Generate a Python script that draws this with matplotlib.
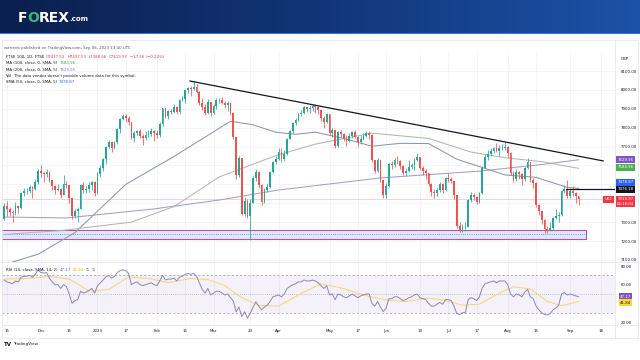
import numpy as np
import matplotlib
matplotlib.use('Agg')
import matplotlib.pyplot as plt
from matplotlib.patches import Rectangle
from matplotlib.colors import LinearSegmentedColormap

# FTSE 100 daily bars, 14 Nov 2022 .. 6 Sep 2023 (x = trading-day index)
first_open = 7318
closes = [7385, 7369, 7351, 7346, 7385, 7376, 7452, 7465, 7466, 7486, 7474, 7512, 7573,
          7558, 7556, 7567, 7521, 7489, 7472, 7476, 7446, 7503, 7495, 7426, 7332, 7361, 7370, 7497, 7469, 7473, 7497, 7512, 7452,
          7554, 7585, 7633, 7699, 7725, 7694, 7725, 7794, 7844, 7860, 7851, 7830, 7747, 7770, 7784, 7757, 7745, 7761, 7765, 7784, 7772,
          7761, 7820, 7902, 7864, 7886, 7885, 7911, 7882, 7947, 7954, 7998, 8012, 8004, 8014, 7991, 7930, 7907, 7878, 7935, 7876,
          7914, 7944, 7947, 7930, 7919, 7929, 7879, 7748, 7548, 7637, 7344, 7410, 7335, 7403, 7536, 7566, 7499, 7405, 7471, 7484, 7564, 7620, 7632,
          7673, 7634, 7662, 7742, 7785, 7824, 7843, 7871, 7879, 7909, 7898, 7902, 7914, 7912, 7891, 7852, 7831, 7870,
          7773, 7788, 7703, 7778, 7764, 7741, 7730, 7754, 7777, 7751, 7722, 7742, 7756, 7770, 7762, 7627, 7571, 7627, 7522, 7446,
          7490, 7607, 7600, 7628, 7624, 7599, 7562, 7570, 7594, 7602, 7628, 7643, 7588, 7569, 7559, 7502, 7461, 7453, 7471, 7500, 7471, 7531,
          7527, 7519, 7442, 7280, 7257, 7273, 7275, 7416, 7441, 7434, 7406, 7453, 7588, 7646, 7663, 7679, 7691, 7676, 7693, 7694, 7699,
          7667, 7561, 7529, 7564, 7554, 7527, 7587, 7618, 7525, 7507, 7389, 7357, 7310, 7262, 7257, 7271, 7320, 7333, 7338, 7465, 7473, 7439,
          7464, 7452, 7437.53, 7419.97]
highs = [7402, 7410, 7380, 7365, 7405, 7392, 7460, 7478, 7480, 7495, 7493, 7530, 7580,
         7600, 7565, 7580, 7570, 7525, 7495, 7500, 7480, 7550, 7520, 7495, 7430, 7372, 7380, 7500, 7510, 7490, 7510, 7518, 7520,
         7565, 7600, 7640, 7705, 7735, 7727, 7730, 7800, 7850, 7875, 7870, 7860, 7832, 7780, 7790, 7795, 7765, 7780, 7790, 7800, 7790,
         7790, 7830, 7905, 7903, 7893, 7900, 7925, 7915, 7950, 7970, 8005, 8015, 8020, 8047, 8030, 7995, 7955, 7925, 7950, 7936,
         7925, 7955, 7955, 7960, 7940, 7940, 7935, 7880, 7750, 7650, 7640, 7435, 7420, 7420, 7545, 7580, 7570, 7500, 7480, 7505, 7570, 7625, 7650,
         7690, 7690, 7680, 7745, 7790, 7830, 7850, 7880, 7895, 7915, 7912, 7915, 7925, 7925, 7915, 7895, 7860, 7880,
         7872, 7800, 7790, 7785, 7790, 7770, 7760, 7770, 7785, 7790, 7755, 7760, 7770, 7780, 7782, 7765, 7630, 7640, 7630, 7525,
         7505, 7615, 7625, 7640, 7650, 7630, 7605, 7585, 7630, 7615, 7640, 7665, 7645, 7595, 7580, 7560, 7505, 7475, 7480, 7515, 7505, 7540,
         7560, 7540, 7520, 7443, 7300, 7290, 7300, 7420, 7460, 7455, 7440, 7460, 7595, 7660, 7680, 7690, 7700, 7720, 7710, 7715, 7723,
         7705, 7670, 7570, 7580, 7570, 7560, 7590, 7640, 7620, 7535, 7510, 7395, 7360, 7315, 7280, 7300, 7325, 7370, 7355, 7470, 7495, 7525,
         7480, 7490, 7460, 7437.53]
lows = [7310, 7335, 7330, 7300, 7340, 7350, 7370, 7440, 7450, 7455, 7430, 7470, 7500,
        7540, 7510, 7540, 7510, 7470, 7450, 7465, 7430, 7445, 7480, 7400, 7315, 7320, 7300, 7370, 7455, 7455, 7460, 7470, 7440,
        7451, 7540, 7570, 7610, 7690, 7670, 7685, 7715, 7770, 7840, 7830, 7815, 7740, 7725, 7760, 7745, 7710, 7735, 7750, 7755, 7730,
        7745, 7750, 7810, 7850, 7845, 7870, 7880, 7870, 7875, 7940, 7930, 7985, 7970, 8000, 7985, 7920, 7895, 7865, 7870, 7860,
        7870, 7900, 7930, 7925, 7905, 7890, 7865, 7740, 7530, 7540, 7340, 7330, 7320, 7206, 7400, 7520, 7480, 7390, 7400, 7460, 7480, 7560, 7610,
        7630, 7620, 7625, 7655, 7740, 7770, 7815, 7835, 7860, 7875, 7885, 7880, 7890, 7880, 7870, 7835, 7800, 7825,
        7760, 7750, 7690, 7700, 7750, 7730, 7705, 7725, 7745, 7745, 7700, 7715, 7735, 7750, 7740, 7620, 7560, 7565, 7510, 7430,
        7430, 7488, 7580, 7590, 7610, 7580, 7550, 7545, 7565, 7580, 7575, 7625, 7575, 7550, 7530, 7490, 7440, 7430, 7440, 7460, 7455, 7465,
        7515, 7505, 7420, 7270, 7246, 7250, 7255, 7272, 7405, 7415, 7395, 7400, 7450, 7585, 7630, 7650, 7665, 7670, 7650, 7680, 7680,
        7640, 7550, 7510, 7520, 7530, 7495, 7520, 7580, 7515, 7480, 7380, 7340, 7290, 7240, 7240, 7255, 7260, 7315, 7300, 7335, 7455, 7430,
        7430, 7440, 7400, 7388.66]

# RSI(14), one value per bar
rsi = [65, 63, 62, 61, 64, 63, 68, 69, 69, 70, 68, 71, 75.7,
       73, 72.5, 73, 67, 63, 60, 60, 56, 60, 58, 50, 40, 43, 44, 53, 51, 52, 54, 56, 51,
       59, 62, 65, 68.5, 70, 67, 69, 73, 75, 76, 75, 72, 60, 62, 63, 60, 59, 60, 61, 62, 60,
       59, 64, 70, 65, 66, 66, 67, 64, 68, 69, 71, 72, 71, 72, 69, 62, 55, 51, 56, 49,
       51, 53, 53, 51, 49, 50, 46, 42.5, 31, 36, 25.7, 31, 24, 29.6, 36, 41.7, 37, 33, 36, 38, 42, 47, 48,
       49, 47, 50, 56, 58, 60, 61, 63, 63, 65, 64, 64, 65, 64, 62, 59, 56, 59,
       49, 50, 44, 50, 49, 47, 46, 48, 50, 48, 46, 48, 49, 50, 50, 40, 37, 42, 36, 31,
       35, 45, 45, 47, 47, 45, 43, 44, 46, 47, 49, 50, 46, 45, 44, 40, 37, 37, 39, 41, 39, 44,
       44, 43, 37, 29, 28, 30, 30, 44, 46, 45, 43, 47, 57, 61, 62, 63, 64, 62, 64, 64, 64,
       60, 50, 47, 50, 49, 47, 52, 55, 47, 45, 37, 33, 30, 28, 27.5, 29, 33, 35, 38, 50, 51.5, 49,
       50, 49, 48, 47.17]
# RSI-based MA, read at a few bars
rsi_ma_x = [0, 10, 16, 23, 30, 37, 44, 52, 58, 66, 72, 78, 84, 90, 97, 104, 112, 120, 128,
            135, 142, 150, 156, 162, 168, 175, 180, 186, 192, 197, 203]
rsi_ma_y = [66, 67, 68.9, 66.2, 53.1, 54.8, 68.5, 66.2, 62.2, 66.6, 65.5, 59, 46, 37.9, 37, 49, 61, 55.9, 48.1,
            43.6, 41.9, 45.6, 43.1, 38, 39.2, 50.9, 57.7, 55.4, 42, 37.5, 41.84]

# moving averages, read at a few bars
sma50_x = [0, 12, 25, 43, 60, 80, 88, 96, 103, 110, 120, 130, 140, 150, 160, 177, 188, 199, 203]
sma50_y = [7075, 7130, 7244, 7500, 7647, 7834, 7815, 7776, 7765, 7776, 7743, 7702, 7717, 7716, 7633, 7550, 7537, 7484, 7478.87]
ma100_x = [0, 20, 45, 60, 76, 96, 110, 130, 150, 165, 177, 190, 203]
ma100_y = [7235, 7255, 7300, 7382, 7539, 7652, 7713, 7771, 7743, 7671, 7641, 7620, 7584.96]
ma200_x = [0, 22, 53, 76, 97, 133, 168, 190, 203]
ma200_y = [7327, 7322, 7370, 7417, 7470, 7534, 7570, 7605, 7629.95]

# drawings
trend_x = [65.7, 211.7]
trend_y = [8047, 7624]
hline_x = [198.5, 216]
hline_y = 7476.18
zone_x = [-1, 205.6]
zone_y = [7211, 7258]
last_price = 7419.97

tick_pos = [1, 13, 23, 33, 43, 54, 64, 74, 87, 97, 115, 125, 135, 147, 157, 167, 178, 188, 200, 211]
tick_lab = ['15', 'Dec', '15', '2023', '17', 'Feb', '15', 'Mar', '20', 'Apr', 'May', '17', 'Jun', '19',
            'Jul', '17', 'Aug', '15', 'Sep', '18']
# levels hidden behind the value tags are left out
price_ticks = [7100, 7200, 7300, 7700, 7800, 7900, 8000, 8100]
grid_levels = [7100, 7200, 7300, 7400, 7500, 7600, 7700, 7800, 7900, 8000, 8100]
rsi_ticks = [20, 60, 80]

UP, DOWN = '#26a69a', '#ef5350'
TXT = '#131722'
W, H = 640, 360

fig = plt.figure(figsize=(6.4, 3.6), dpi=100)


def frac(x0, y0, x1, y1):
    return [x0 / W, 1 - y1 / H, (x1 - x0) / W, (y1 - y0) / H]


ax = fig.add_axes(frac(2, 53, 615, 262))
axr = fig.add_axes(frac(2, 262, 615, 325), sharex=ax)
ov = fig.add_axes([0, 0, 1, 1], zorder=10)
ov.set_xlim(0, W)
ov.set_ylim(H, 0)
ov.axis('off')

# candles
xs = np.arange(len(closes))
c = np.array(closes)
o = np.array([first_open] + closes[:-1])
cols = np.where(c >= o, UP, DOWN)
ax.vlines(xs, lows, highs, colors=cols, lw=0.55, zorder=3)
body = np.maximum(np.abs(c - o), 2)
ax.bar(xs, body, bottom=np.minimum(o, c), width=0.62, color=cols, lw=0, zorder=4)

ax.plot(sma50_x, sma50_y, color='#9196a6', lw=0.75, zorder=2)
ax.plot(ma100_x, ma100_y, color='#b3b7b1', lw=0.75, zorder=2)
ax.plot(ma200_x, ma200_y, color='#a99cc6', lw=0.75, zorder=2)

ax.add_patch(Rectangle((zone_x[0], zone_y[0]), zone_x[1] - zone_x[0], zone_y[1] - zone_y[0],
                       facecolor='#dfe6fb', edgecolor='#b4589c', lw=0.8, zorder=1))
ax.plot(zone_x, [sum(zone_y) / 2] * 2, color='#5b80e6', lw=0.6, ls=(0, (1, 1.6)), zorder=1)
ax.plot(trend_x, trend_y, color=TXT, lw=0.9, zorder=5)
ax.plot(hline_x, [hline_y] * 2, color=TXT, lw=0.9, zorder=5)
ax.axhline(last_price, color='#e8c3c6', lw=0.5, zorder=1)

ax.set_xlim(-0.75, 215.9)
ax.set_ylim(7088.9, 8195.3)
for lv in grid_levels:
    ax.axhline(lv, color='#f0f3fa', lw=0.6, zorder=0)
for tp in tick_pos:
    ax.axvline(tp, color='#f0f3fa', lw=0.6, zorder=0)
    axr.axvline(tp, color='#f0f3fa', lw=0.6, zorder=0)
ax.yaxis.tick_right()
ax.set_yticks(price_ticks)
ax.set_yticklabels([f'{v:.2f}' for v in price_ticks])
ax.tick_params(axis='y', length=0, pad=4, labelsize=2.8, labelcolor=TXT)
ax.tick_params(axis='x', length=0, labelbottom=False)

# RSI pane
axr.axhspan(30, 70, color='#7e57c2', alpha=0.08, lw=0)
for lv, ls in [(70, (0, (3, 3))), (50, (0, (1, 2))), (30, (0, (3, 3)))]:
    axr.axhline(lv, color='#9598a1', lw=0.5, ls=ls)
axr.plot(rsi_ma_x, rsi_ma_y, color='#f5d76e', lw=0.7)
axr.plot(xs, rsi, color='#8e86b4', lw=0.7)
axr.set_ylim(16.8, 84.3)
axr.yaxis.tick_right()
axr.set_yticks(rsi_ticks)
axr.set_yticklabels([f'{v:.2f}' for v in rsi_ticks])
axr.set_xticks(tick_pos)
axr.set_xticklabels(tick_lab)
axr.tick_params(axis='y', length=0, pad=4, labelsize=2.8, labelcolor=TXT)
axr.tick_params(axis='x', length=0, pad=3.2, labelsize=2.8, labelcolor=TXT)

for a in (ax, axr):
    for s in a.spines.values():
        s.set_visible(False)

# separators
for (x0, y0, x1, y1) in [(615, 40, 615, 338), (2, 262, 638, 262), (2, 325, 638, 325),
                         (2, 338, 638, 338), (2, 40, 638, 40), (2, 40, 2, 338), (638, 40, 638, 338)]:
    ov.plot([x0, x1], [y0, y1], color='#e0e3eb', lw=0.5)

# banner
grad = np.linspace(0, 1, 256)[None, :]
cmap = LinearSegmentedColormap.from_list('ban', ['#0b1f4d', '#123578', '#1c52a8'])
ov.imshow(grad, extent=(0, W, 33, 0), aspect='auto', cmap=cmap, zorder=0)
ov.plot([0, W], [33, 33], color='#3d74d6', lw=0.8)
ov.set_xlim(0, W)
ov.set_ylim(H, 0)
ov.text(18, 17.5, 'F', color='white', fontsize=10, fontweight='bold', va='center')
ov.text(27.4, 17.5, 'O', color='#35b77a', fontsize=10, fontweight='bold', va='center')
ov.text(39, 17.5, 'REX', color='white', fontsize=10, fontweight='bold', va='center')
ov.text(69.5, 19, '.com', color='white', fontsize=5, fontweight='bold', va='center')

r = fig.canvas.get_renderer()


def row(x, y, parts, fs=2.8):
    for s, col in parts:
        t = ov.text(x, y, s, fontsize=fs, color=col, va='center', ha='left')
        x += t.get_window_extent(renderer=r).width + 2.0


GREY = '#50535e'
RED = '#f23645'
row(4, 48.5, [('warrenb published on TradingView.com, Sep 06, 2023 13:40 UTC', GREY)])
row(6, 57, [('FTSE 100, 1D, FTSE', TXT), ('O7437.53', RED), ('H7437.53', RED), ('L7388.66', RED),
            ('C7419.97', RED), ('\u221217.56 (\u22120.24%)', RED)])
row(6, 63.5, [('MA (100, close, 0, SMA, 5)', TXT), ('7584.96', '#43a047')])
row(6, 69.8, [('MA (200, close, 0, SMA, 5)', TXT), ('7629.95', '#8e6bd0')])
row(6, 76, [('Vol', TXT), ("The data vendor doesn't provide volume data for this symbol.", TXT)])
row(6, 82, [('SMA (50, close, 0, SMA, 5)', TXT), ('7478.87', '#2962ff')])
row(6, 270, [('RSI (14, close, SMA, 14, 2)', TXT), ('47.17', '#7e57c2'), ('41.84', '#e0b800'),
             ('\u2205', GREY), ('\u2205', GREY)])
ov.text(625, 59, 'GBP', fontsize=2.8, color=TXT, ha='center', va='center')


def to_px(a, y):
    d = a.transData.transform((0, y))
    return ov.transData.inverted().transform(d)[1]


def tag(a, val, text, fc, tc='white', dy=0, x=625.5):
    ov.text(x, to_px(a, val) + dy, text, fontsize=2.8, color=tc, ha='center', va='center',
            bbox=dict(boxstyle='square,pad=0.35', fc=fc, ec='none'))


tag(ax, 7629.95, '7629.95', '#7e57c2')
tag(ax, 7584.96, '7584.96', '#4caf50', dy=-1)
tag(ax, 7478.87, '7478.87', '#2962ff', dy=-6)
tag(ax, hline_y, '7476.18', TXT, dy=0.5)
tag(ax, last_price, '7419.97\n06:16:03', RED, dy=2)
tag(ax, last_price, 'UK1', RED, x=608.5)
tag(axr, 47.17, '47.17', '#7e57c2')
tag(axr, 41.84, '41.84', '#fdd835', tc=TXT, dy=1)

# TradingView mark
ov.text(4, 344, 'TV', fontsize=4, fontweight='bold', color=TXT, va='center')
ov.text(13, 344, 'TradingView', fontsize=3, color=TXT, va='center')

fig.savefig('out.png', dpi=100)
